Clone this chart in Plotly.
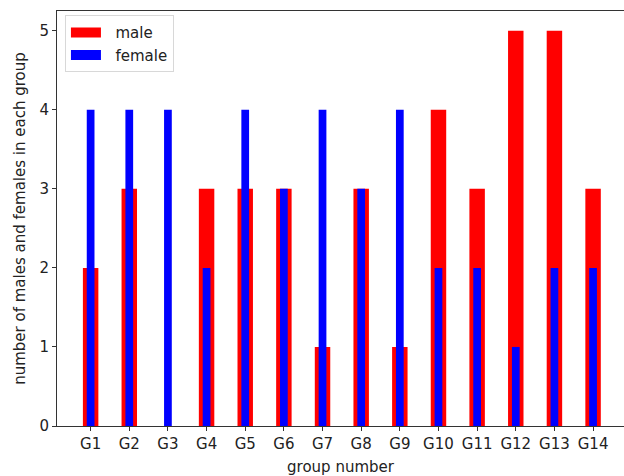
import plotly.graph_objects as go

groups = ["G1", "G2", "G3", "G4", "G5", "G6", "G7", "G8", "G9", "G10", "G11", "G12", "G13", "G14"]
male = [2, 3, 0, 3, 3, 3, 1, 3, 1, 4, 3, 5, 5, 3]
female = [4, 4, 4, 2, 4, 3, 4, 3, 4, 2, 2, 1, 2, 2]
y_ticks = [0, 1, 2, 3, 4, 5]

pos = list(range(len(groups)))
FONT = "DejaVu Sans"
FS = 15

fig = go.Figure()
fig.add_trace(go.Bar(x=pos, y=male, width=0.4, marker=dict(color="#ff0000", line=dict(width=0)),
                     name="male", showlegend=False))
fig.add_trace(go.Bar(x=pos, y=female, width=0.2, marker=dict(color="#0000ff", line=dict(width=0)),
                     name="female", showlegend=False))
# legend proxies (rectangular patches like matplotlib)
fig.add_trace(go.Scatter(x=[None], y=[None], mode="lines", name="\u00a0\u00a0male",
                         legendgroup="m", line=dict(color="#ff0000", width=10)))
fig.add_trace(go.Scatter(x=[None], y=[None], mode="lines", name="\u00a0\u00a0female",
                         legendgroup="f", line=dict(color="#0000ff", width=10)))

fig.update_layout(
    width=624, height=476,
    margin=dict(l=57, r=0, t=11, b=50, autoexpand=False),
    barmode="overlay",
    plot_bgcolor="white", paper_bgcolor="white",
    font=dict(family=FONT, size=FS, color="#222222"),
    showlegend=True,
    legend=dict(x=0.014, y=0.99, xanchor="left", yanchor="top",
                bgcolor="rgba(255,255,255,0.8)", bordercolor="#d8d8d8", borderwidth=1,
                font=dict(family=FONT, size=FS, color="#222222"), tracegroupgap=0,
                itemwidth=30),
    xaxis=dict(range=[-0.87, 13.80], tickmode="array", tickvals=pos, ticktext=groups,
               showgrid=False, zeroline=False, showline=True, linecolor="#333333", linewidth=1,
               mirror=True, ticks="outside", ticklen=4, tickcolor="#333333", automargin=False,
               title=dict(text="group number", font=dict(size=FS), standoff=9)),
    yaxis=dict(range=[0, 5.25], tickmode="array", tickvals=y_ticks,
               showgrid=False, zeroline=False, showline=True, linecolor="#333333", linewidth=1,
               mirror=False, ticks="outside", ticklen=4, tickcolor="#333333", automargin=False,
               title=dict(text="number of males and females in each group", font=dict(size=FS), standoff=10)),
)

fig.write_html("out.html", config={"displayModeBar": False},
               post_script="document.body.style.margin='0';document.body.style.overflow='hidden';")
